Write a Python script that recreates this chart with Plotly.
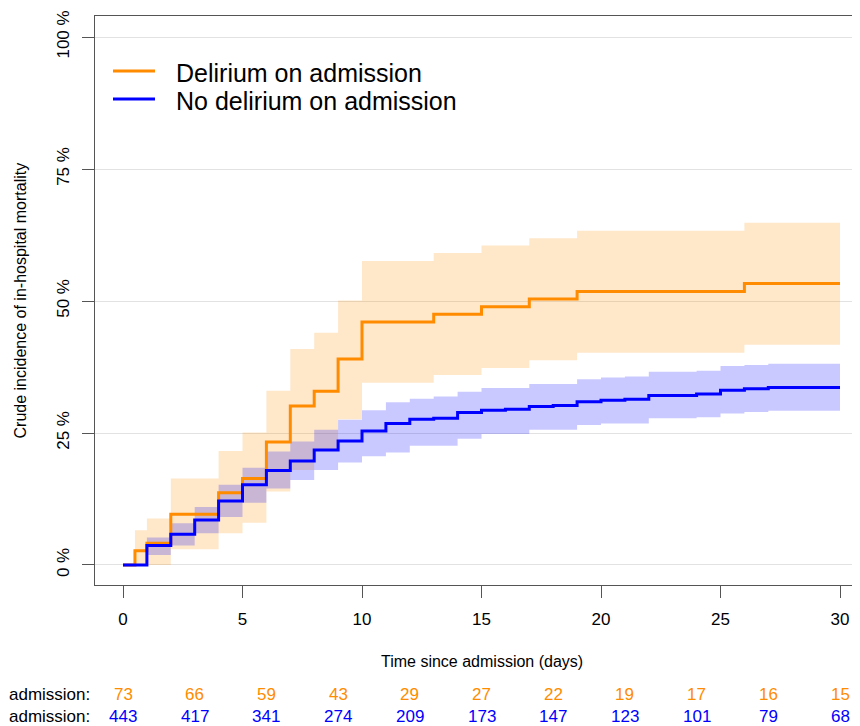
import plotly.graph_objects as go

# ---------------- data ----------------
ORANGE_T = [0, 0.5, 1, 2, 4, 5, 6, 7, 8, 9, 10, 13, 15, 17, 19, 26, 30]
ORANGE_EST = [0, 2.7, 4.1, 9.6, 13.7, 16.4, 23.3, 30.1, 32.9, 39.0, 46.0, 47.5, 48.9, 50.4, 51.8, 53.3, 53.3]
ORANGE_LO = [0, 0, 0, 3.0, 6.0, 8.0, 13.9, 18.0, 21.9, 27.6, 34.5, 36.0, 37.3, 38.8, 40.2, 41.7, 41.7]
ORANGE_HI = [0, 6.6, 8.8, 16.4, 21.6, 25.1, 33.0, 40.9, 44.0, 50.1, 57.6, 59.1, 60.5, 61.9, 63.3, 64.8, 64.8]

BLUE_T = [0, 1, 2, 3, 4, 5, 6, 7, 8, 9, 10, 11, 12, 13, 14, 15, 16, 17, 18, 19, 20,
          21, 22, 23, 24, 25, 26, 27, 28, 29, 30]
BLUE_EST = [0, 3.7, 5.8, 8.5, 12.1, 15.2, 17.9, 19.7, 21.8, 23.5, 25.4, 26.8, 27.6, 27.8,
            28.9, 29.3, 29.5, 30.0, 30.2, 30.9, 31.2, 31.4, 32.1, 32.1, 32.4, 33.1, 33.4,
            33.6, 33.6, 33.6, 33.6]
BLUE_HI = [0, 5.2, 7.9, 11.0, 15.2, 18.4, 21.5, 23.4, 25.6, 27.5, 29.3, 30.8, 31.5, 31.9,
           32.8, 33.5, 33.5, 34.3, 34.3, 35.2, 35.5, 35.7, 36.6, 36.6, 36.8, 37.7, 37.9,
           38.1, 38.1, 38.1, 38.1]
BLUE_LO = [0, 1.9, 3.7, 6.0, 9.1, 11.8, 14.5, 16.1, 18.0, 19.4, 20.6, 21.3, 22.6, 22.6,
           23.9, 24.8, 24.8, 25.6, 25.6, 26.5, 26.8, 26.8, 27.8, 27.8, 28.0, 28.7, 29.0,
           29.2, 29.2, 29.2, 29.2]

RISK_TIMES = [0, 3, 6, 9, 12, 15, 18, 21, 24, 27, 30]
RISK_DEL = [73, 66, 59, 43, 29, 27, 22, 19, 17, 16, 15]
RISK_NODEL = [443, 417, 341, 274, 209, 173, 147, 123, 101, 79, 68]

SERIES_NAMES = ["Delirium on admission", "No delirium on admission"]
X_TICKS = [0, 5, 10, 15, 20, 25, 30]
Y_TICKS = [0, 25, 50, 75, 100]
Y_TICKTEXT = ["0 %", "25 %", "50 %", "75 %", "100 %"]

ORANGE = "#FF8C00"
BLUE = "#0000FF"
ORANGE_FILL = "rgba(255,140,0,0.21)"
BLUE_FILL = "rgba(0,0,255,0.21)"
FONT = "Liberation Sans, Arial, sans-serif"

fig = go.Figure()

# confidence bands
for t, lo, hi, fill in [(ORANGE_T, ORANGE_LO, ORANGE_HI, ORANGE_FILL),
                        (BLUE_T, BLUE_LO, BLUE_HI, BLUE_FILL)]:
    fig.add_trace(go.Scatter(x=t, y=lo, mode="lines", line=dict(width=0, shape="hv"),
                             showlegend=False, hoverinfo="skip"))
    fig.add_trace(go.Scatter(x=t, y=hi, mode="lines", line=dict(width=0, shape="hv"),
                             fill="tonexty", fillcolor=fill, showlegend=False,
                             hoverinfo="skip"))

# estimate lines
fig.add_trace(go.Scatter(x=ORANGE_T, y=ORANGE_EST, mode="lines",
                         line=dict(color=ORANGE, width=3, shape="hv"),
                         name=SERIES_NAMES[0], showlegend=False))
fig.add_trace(go.Scatter(x=BLUE_T, y=BLUE_EST, mode="lines",
                         line=dict(color=BLUE, width=3, shape="hv"),
                         name=SERIES_NAMES[1], showlegend=False))

# The page body adds an 8px offset; plot area spans screen x 95..868, y 16..585
PW = 773.0
PH = 569.0


def px_x(sx):
    return (sx - 95) / PW


def px_y(sy):
    return (585 - sy) / PH


annotations = []
shapes = []
# custom legend
for i, (name, col) in enumerate(zip(SERIES_NAMES, [ORANGE, BLUE])):
    ly = 71 + 28 * i
    shapes.append(dict(type="line", xref="paper", yref="paper",
                       x0=px_x(113), x1=px_x(155), y0=px_y(ly), y1=px_y(ly),
                       line=dict(color=col, width=3)))
    annotations.append(dict(x=px_x(174), y=px_y(ly + 2), xref="paper", yref="paper",
                            text=name, showarrow=False,
                            font=dict(color="black", size=25, family=FONT),
                            xanchor="left", yanchor="middle"))

# risk table
for t, a, b in zip(RISK_TIMES, RISK_DEL, RISK_NODEL):
    annotations.append(dict(x=t, y=px_y(694), xref="x", yref="paper", text=str(a),
                            showarrow=False, font=dict(color=ORANGE, size=17, family=FONT),
                            xanchor="center", yanchor="middle"))
    annotations.append(dict(x=t, y=px_y(716), xref="x", yref="paper", text=str(b),
                            showarrow=False, font=dict(color=BLUE, size=17, family=FONT),
                            xanchor="center", yanchor="middle"))
for sy in (694, 716):
    annotations.append(dict(x=px_x(7), y=px_y(sy), xref="paper", yref="paper",
                            text="admission:", showarrow=False,
                            font=dict(color="black", size=17, family=FONT),
                            xanchor="left", yanchor="middle"))
# axis titles
annotations.append(dict(x=15, y=px_y(661), xref="x", yref="paper",
                        text="Time since admission (days)", showarrow=False,
                        font=dict(color="black", size=16, family=FONT),
                        xanchor="center", yanchor="middle"))
annotations.append(dict(x=px_x(20), y=0.5, xref="paper", yref="paper",
                        text="Crude incidence of in-hospital mortality", textangle=-90,
                        showarrow=False, font=dict(color="black", size=16, family=FONT),
                        xanchor="center", yanchor="middle"))

fig.update_layout(
    width=860, height=726,
    margin=dict(l=87, r=0, t=8, b=149),
    paper_bgcolor="white", plot_bgcolor="white",
    font=dict(family=FONT, color="black"),
    showlegend=False,
    annotations=annotations,
    shapes=shapes,
    xaxis=dict(range=[-28 / 23.9, 30 + 28 / 23.9], tickvals=X_TICKS, ticks="outside",
               ticklen=12, tickcolor="#555", tickwidth=1.3, showline=True,
               linecolor="#555", linewidth=1.3, mirror=True, showgrid=False,
               zeroline=False, tickfont=dict(size=17, family=FONT, color="black"),
               ticklabelstandoff=6),
    yaxis=dict(range=[-3.79, 103.98], tickvals=Y_TICKS, ticktext=Y_TICKTEXT,
               tickangle=-90, ticks="outside", ticklen=12, tickcolor="#555",
               tickwidth=1.3, showline=True, linecolor="#555", linewidth=1.3,
               showgrid=True, gridcolor="#e2e2e2", gridwidth=1, zeroline=False,
               tickfont=dict(size=17, family=FONT, color="black"),
               ticklabelstandoff=6),
)

fig.write_html("out.html")
